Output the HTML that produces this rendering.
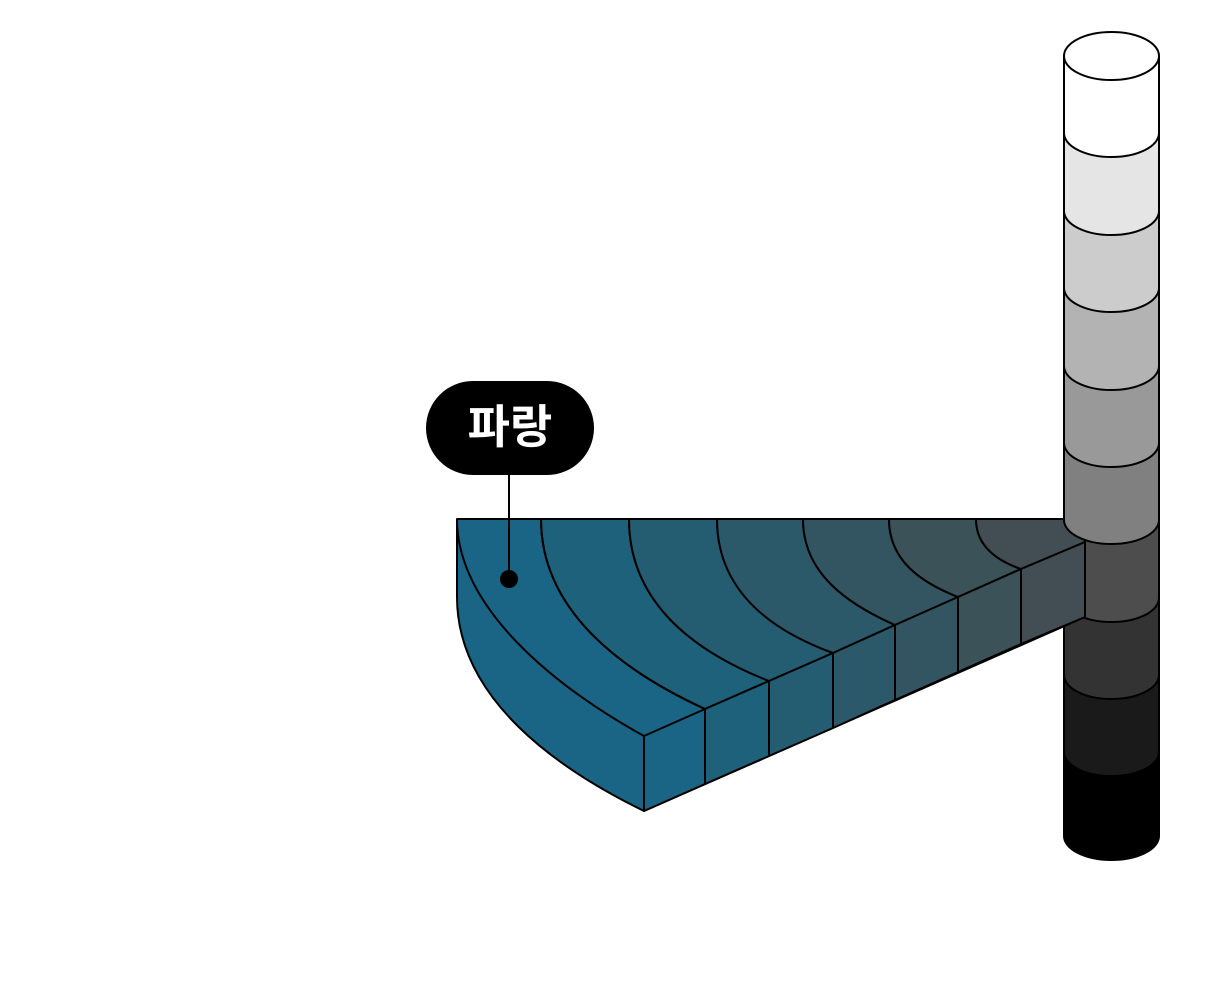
<!DOCTYPE html>
<html><head><meta charset="utf-8"><style>body{margin:0;background:#fff}svg{display:block}</style></head>
<body>
<svg width="1228" height="1000" viewBox="0 0 1228 1000" xmlns="http://www.w3.org/2000/svg">
<g stroke="#000" stroke-width="2">
<path d="M1064 752 L1064 836 A47.5 24 0 0 0 1159 836 L1159 752 Z" fill="#000"/>
<path d="M1064 675 L1064 752 A47.5 24 0 0 0 1159 752 L1159 675 Z" fill="#1a1a1a"/>
<path d="M1064 598 L1064 675 A47.5 24 0 0 0 1159 675 L1159 598 Z" fill="#333"/>
<path d="M1064 520 L1064 598 A47.5 24 0 0 0 1159 598 L1159 520 Z" fill="#4d4d4d"/>
</g>
<g stroke="#000" stroke-width="2" stroke-linejoin="round">
<path d="M457 519 L1085 519 L1085 617 L644 811 C560 770 457 700 457 597 Z" fill="#1a6585"/>
<path d="M541 519 L629 519 C629 600 690 650 769 681 L705 709 C620 670 541 610 541 519 Z" fill="#1e617b"/>
<path d="M629 519 L717 519 C717 590 770 630 833 653 L769 681 C690 650 629 600 629 519 Z" fill="#245d72"/>
<path d="M717 519 L803 519 C803 575 850 605 895 625 L833 653 C770 630 717 590 717 519 Z" fill="#2b596a"/>
<path d="M803 519 L889 519 C889 560 920 582 958 597 L895 625 C850 605 803 575 803 519 Z" fill="#335561"/>
<path d="M889 519 L976 519 C976 545 995 560 1021 569 L958 597 C920 582 889 560 889 519 Z" fill="#3b5259"/>
<path d="M976 519 L1085 519 L1085 542 L1021 569 C995 560 976 545 976 519 Z" fill="#424e53"/>
<path d="M457 519 C457 610 560 690 644 736 M541 519 C541 610 620 670 705 709" fill="none"/>
<path d="M705 709 L769 681 L769 756 L705 784 Z" fill="#1e617b"/>
<path d="M769 681 L833 653 L833 728 L769 756 Z" fill="#245d72"/>
<path d="M833 653 L895 625 L895 700 L833 728 Z" fill="#2b596a"/>
<path d="M895 625 L958 597 L958 672 L895 700 Z" fill="#335561"/>
<path d="M958 597 L1021 569 L1021 644 L958 672 Z" fill="#3b5259"/>
<path d="M1021 569 L1085 542 L1085 617 L1021 644 Z" fill="#424e53"/>
<path d="M644 736 L705 709 L705 784 L644 811 Z" fill="#1a6585"/>
</g>
<g stroke="#000" stroke-width="2">
<path d="M1064 443 L1064 520 A47.5 24 0 0 0 1159 520 L1159 443 Z" fill="#808080"/>
<path d="M1064 366 L1064 443 A47.5 24 0 0 0 1159 443 L1159 366 Z" fill="#999"/>
<path d="M1064 288 L1064 366 A47.5 24 0 0 0 1159 366 L1159 288 Z" fill="#b3b3b3"/>
<path d="M1064 211 L1064 288 A47.5 24 0 0 0 1159 288 L1159 211 Z" fill="#ccc"/>
<path d="M1064 133 L1064 211 A47.5 24 0 0 0 1159 211 L1159 133 Z" fill="#e5e5e5"/>
<path d="M1064 56 L1064 133 A47.5 24 0 0 0 1159 133 L1159 56 Z" fill="#fff"/>
<ellipse cx="1111.5" cy="56" rx="47.5" ry="24" fill="#fff"/>
</g>
<line x1="509" y1="475" x2="509" y2="579" stroke="#000" stroke-width="2"/>
<circle cx="509" cy="579" r="9" fill="#000"/>
<rect x="426" y="381" width="168" height="94" rx="47" fill="#000"/>
<text x="510" y="443" text-anchor="middle" fill="#fff" font-size="46" font-weight="bold" font-family="'Liberation Sans','Noto Sans CJK KR',sans-serif">파랑</text>
</svg>
</body></html>
